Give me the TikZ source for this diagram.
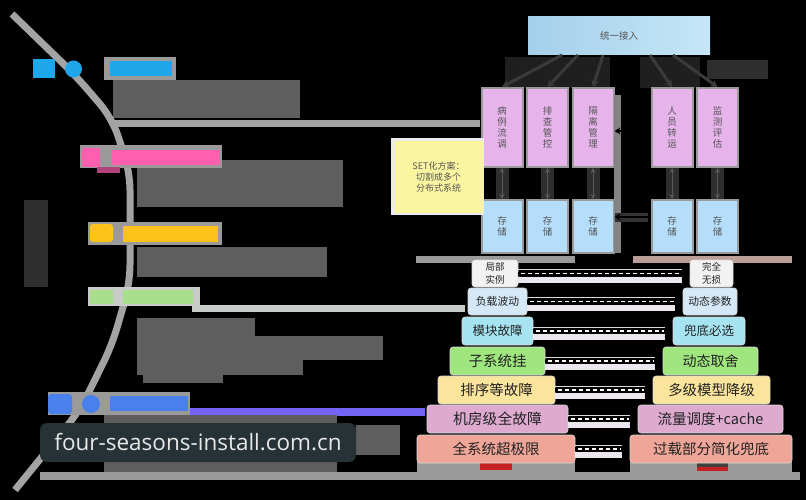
\documentclass[tikz,border=0pt]{standalone}
\usepackage{fontspec}
\setmainfont{Noto Sans CJK SC}
\newfontfamily\wmfont{Open Sans}
\usetikzlibrary{arrows.meta,calc}
\definecolor{curvegrey}{HTML}{A3A3A3}
\definecolor{blockgrey}{HTML}{5E5E5E}
\definecolor{bargrey}{HTML}{C8CCC8}
\definecolor{framegrey}{HTML}{9A9A9A}
\definecolor{labcyan}{HTML}{1EA7EA}
\definecolor{labpink}{HTML}{FF5FAE}
\definecolor{labyellow}{HTML}{FFC21A}
\definecolor{labgreen}{HTML}{A9DE8C}
\definecolor{labblue}{HTML}{4A80EC}
\definecolor{barpurple}{HTML}{7463F5}
\definecolor{modpink}{HTML}{E6B4EB}
\definecolor{stoblue}{HTML}{B4DEFA}
\definecolor{topl}{HTML}{A4D0EA}
\definecolor{topr}{HTML}{C6E6F7}
\definecolor{darkarrow}{HTML}{3A3A3A}
\definecolor{darkbar}{HTML}{2E2E2E}
\definecolor{notey}{HTML}{FBF5A0}
\definecolor{wmbg}{HTML}{263235}
\definecolor{wmtext}{HTML}{E8E8E8}
\definecolor{pa}{HTML}{F2F2F2}
\definecolor{pb}{HTML}{D4E8F7}
\definecolor{pc}{HTML}{A6E4F2}
\definecolor{pd}{HTML}{A0E67E}
\definecolor{pe}{HTML}{FBE49C}
\definecolor{pf}{HTML}{DEAAD0}
\definecolor{pg}{HTML}{EFA597}
\definecolor{bandlight}{HTML}{ECE6EE}
\definecolor{txtgrey}{HTML}{555555}
\definecolor{txtdark}{HTML}{222222}
\definecolor{redbar}{HTML}{C42020}
\begin{document}
\begin{tikzpicture}[x=1pt,y=-1pt,
  modbox/.style={draw=framegrey, line width=2pt, fill=modpink, minimum width=41pt, minimum height=79pt, inner sep=0pt, font=\fontsize{9.5}{11.2}\selectfont, text=txtgrey, align=center},
  stobox/.style={draw=framegrey, line width=2pt, fill=stoblue, minimum width=41pt, minimum height=53pt, inner sep=0pt, font=\fontsize{9.5}{11.2}\selectfont, text=txtgrey, align=center},
  pyrbox/.style={draw=black!15, line width=0.6pt, rounded corners=3pt, inner sep=0pt, text=txtdark, align=center},
  toparrow/.style={line width=3pt, draw=darkarrow, -{Stealth[length=7pt,width=8pt]}},
  vbar/.style={line width=13pt, draw=darkbar},
  varrow/.style={line width=1pt, draw=black!65, {Stealth[length=5pt,width=5pt]}-{Stealth[length=5pt,width=5pt]}},
  pairback/.style={line width=4pt, draw=black, -{Stealth[length=8pt,width=11pt]}},
  pairfront/.style={line width=1.6pt, draw=white, dash pattern=on 4pt off 3pt, shorten >=9pt, shorten <=3pt},
  pairband/.style={line width=6pt, draw=bandlight, shorten >=8pt},
  pairunder/.style={line width=1pt, draw=white!85!black, shorten >=8pt},
  sidearrow/.style={line width=2pt, draw=black, -{Stealth[length=6pt,width=7pt]}}
]
\useasboundingbox (0,0) rectangle (806,500);
\fill[black] (0,0) rectangle (806,500);

% ---------- left side ----------
\fill[blockgrey] (113,80) rectangle (300,118);
\fill[bargrey!80!black] (113,120) rectangle (480,127);
\fill[blockgrey] (137,160) rectangle (343,207);
\fill[blockgrey] (137,247) rectangle (327,277);
\fill[bargrey] (192,305) rectangle (465,312);
\fill[blockgrey] (137,318) rectangle (255,336);
\fill[blockgrey] (137,336) rectangle (383,360);
\fill[blockgrey] (137,360) rectangle (303,375);
\fill[blockgrey] (143,375) rectangle (223,383);
\fill[barpurple] (185,408) rectangle (425,416);
\fill[blockgrey] (104,415) rectangle (337,472);
\fill[blockgrey] (356,425) rectangle (400,455);
\fill[framegrey] (40,472) rectangle (800,480);
\fill[black!82] (24,200) rectangle (48,287);

% curve
\draw[curvegrey, line width=7pt, rounded corners=18pt]
  (12,14) -- (75,75) -- (112,118) -- (130,172) -- (130,283) -- (112,345) -- (80,410) -- (15,490);

% label 1 (cyan)
\fill[labcyan] (33,59) rectangle (55,78);
\fill[labcyan] (73.5,69) circle (8.5pt);
\fill[framegrey] (104,57) rectangle (176,80);
\fill[labcyan] (110,61) rectangle (172,76);
% label 2 (pink)
\fill[framegrey] (80,145) rectangle (222,168);
\fill[labpink, rounded corners=2pt] (82,148) rectangle (100,167);
\fill[labpink] (112,150) rectangle (220,165);
\fill[labpink!70!black] (97,167) rectangle (120,173);
% label 3 (yellow)
\fill[framegrey] (88,222) rectangle (222,245);
\fill[labyellow, rounded corners=3pt] (90,224) rectangle (113,242);
\fill[labyellow] (123,226) rectangle (218,242);
% label 4 (green)
\fill[bargrey] (88,287) rectangle (200,306);
\fill[labgreen] (90,290) rectangle (113,304);
\fill[labgreen] (123,290) rectangle (193,304);
% label 5 (blue)
\fill[framegrey] (48,392) rectangle (190,415);
\fill[labblue, rounded corners=3pt] (48,394) rectangle (72,414);
\fill[labblue] (91,404) circle (9pt);
\fill[labblue] (110,396) rectangle (188,411);

% watermark
\node[fill=wmbg, rounded corners=7pt, minimum width=316pt, minimum height=39pt, inner sep=0pt,
      text=wmtext, font=\wmfont\fontsize{22.5}{24}\selectfont] (wm) at (198,442.5) {four-seasons-install.com.cn};

% ---------- right side ----------
\fill[black!88] (505,57) rectangle (610,88);
\fill[black!88] (640,57) rectangle (700,88);
\fill[black!82] (707,60) rectangle (768,79);

% top box
\shade[left color=topl, right color=topr] (528,17) rectangle (710,55);
\node[font=\fontsize{9.5}{11}\selectfont, text=txtgrey] (top) at (619,36) {统一接入};

% module boxes
\node[modbox] (m1) at (502,127.5) {病\\例\\流\\调};
\node[modbox] (m2) at (547.5,127.5) {排\\查\\管\\控};
\node[modbox] (m3) at (593,127.5) {隔\\离\\管\\理};
\node[modbox] (m4) at (672,127.5) {人\\员\\转\\运};
\node[modbox] (m5) at (717.5,127.5) {监\\测\\评\\估};

% storage boxes
\node[stobox] (s1) at (502,226.5) {存\\储};
\node[stobox] (s2) at (547.5,226.5) {存\\储};
\node[stobox] (s3) at (593,226.5) {存\\储};
\node[stobox] (s4) at (672,226.5) {存\\储};
\node[stobox] (s5) at (717.5,226.5) {存\\储};

\fill[framegrey!85!black] (614,95) rectangle (621,253);

% top arrows
\coordinate (t1) at (562,55);
\coordinate (t2) at (578,55);
\coordinate (t3) at (603,55);
\coordinate (t4) at (650,55);
\coordinate (t5) at (673,55);
\draw[toparrow] (t1) -- (m1.north);
\draw[toparrow] (t2) -- (m2.north);
\draw[toparrow] (t3) -- (m3.north);
\draw[toparrow] (t4) -- (m4.north);
\draw[toparrow] (t5) -- (m5.north);

% vertical links module - storage
\foreach \i in {1,...,5}{
  \draw[vbar] (m\i.south) -- (s\i.north);
  \draw[varrow] (m\i.south) -- (s\i.north);
}

% side arrows between groups
\coordinate (sa1) at (638,131);
\coordinate (sa2) at (648,217);
\draw[sidearrow] (sa1) -- (m3.east |- sa1);
\draw[line width=9pt, draw=black!80] (sa2) -- (s3.east |- sa2);
\draw[sidearrow] (sa2) -- (s3.east |- sa2);

% sticky note
\fill[black!8] (391,138) rectangle (484,215);
\node[fill=notey, minimum width=88pt, minimum height=71pt, inner sep=0pt, align=center,
      font=\fontsize{9}{11}\selectfont, text=txtgrey] (note) at (438.5,177) {SET化方案：\\切割成多个\\分布式系统};

% bars under storage
\fill[framegrey] (416,256) rectangle (575,263);
\fill[framegrey!60!pg] (633,256) rectangle (792,263);
% grey base under pyramid
\fill[framegrey] (417,462) rectangle (575,472);
\fill[framegrey] (630,462) rectangle (792,472);
\fill[redbar] (480,463) rectangle (512,470);
\fill[black!75] (697,462) rectangle (728,467);
\fill[redbar] (697,467) rectangle (728,471);

% pyramid left
\node[pyrbox, fill=pa, minimum width=46pt, minimum height=27pt, font=\fontsize{9.5}{12.5}\selectfont] (L1) at (495,273.5) {局部\\实例};
\node[pyrbox, fill=pb, minimum width=59pt, minimum height=27pt, font=\fontsize{10.8}{12}\selectfont] (L2) at (497.5,301.5) {负载波动};
\node[pyrbox, fill=pc, minimum width=71pt, minimum height=28pt, font=\fontsize{12.5}{14}\selectfont] (L3) at (497.5,331) {模块故障};
\node[pyrbox, fill=pd, minimum width=95pt, minimum height=28pt, font=\fontsize{14.5}{16}\selectfont] (L4) at (497.5,361) {子系统挂};
\node[pyrbox, fill=pe, minimum width=117pt, minimum height=28pt, font=\fontsize{14.5}{16}\selectfont] (L5) at (496.5,390) {排序等故障};
\node[pyrbox, fill=pf, minimum width=141pt, minimum height=28pt, font=\fontsize{14.8}{16}\selectfont] (L6) at (497.5,419) {机房级全故障};
\node[pyrbox, fill=pg, minimum width=158pt, minimum height=28pt, font=\fontsize{14.5}{16}\selectfont] (L7) at (496,449) {全系统超极限};
% pyramid right
\node[pyrbox, fill=pa, minimum width=43pt, minimum height=27pt, font=\fontsize{9.5}{12.5}\selectfont] (R1) at (711.5,273.5) {完全\\无损};
\node[pyrbox, fill=pb, minimum width=54pt, minimum height=27pt, font=\fontsize{10.8}{12}\selectfont] (R2) at (710,301.5) {动态参数};
\node[pyrbox, fill=pc, minimum width=72pt, minimum height=28pt, font=\fontsize{12.5}{14}\selectfont] (R3) at (709,331) {兜底必选};
\node[pyrbox, fill=pd, minimum width=95pt, minimum height=28pt, font=\fontsize{14}{16}\selectfont] (R4) at (710.5,361) {动态取舍};
\node[pyrbox, fill=pe, minimum width=117pt, minimum height=28pt, font=\fontsize{14.4}{16}\selectfont] (R5) at (711.5,390) {多级模型降级};
\node[pyrbox, fill=pf, minimum width=145pt, minimum height=28pt, font=\fontsize{14.5}{16}\selectfont] (R6) at (710.5,419) {流量调度+cache};
\node[pyrbox, fill=pg, minimum width=162pt, minimum height=28pt, font=\fontsize{14.5}{16}\selectfont] (R7) at (711,449) {过载部分简化兜底};

% pair arrows
\foreach \i in {1,...,7}{
  \draw[pairband] ([yshift=-6pt]L\i.east) -- ([yshift=-6pt]R\i.west);
  \draw[pairunder] ([yshift=4pt]L\i.east) -- ([yshift=4pt]R\i.west);
  \draw[pairback] (L\i.east) -- (R\i.west);
  \draw[pairfront] (L\i.east) -- (R\i.west);
}
\end{tikzpicture}
\end{document}
